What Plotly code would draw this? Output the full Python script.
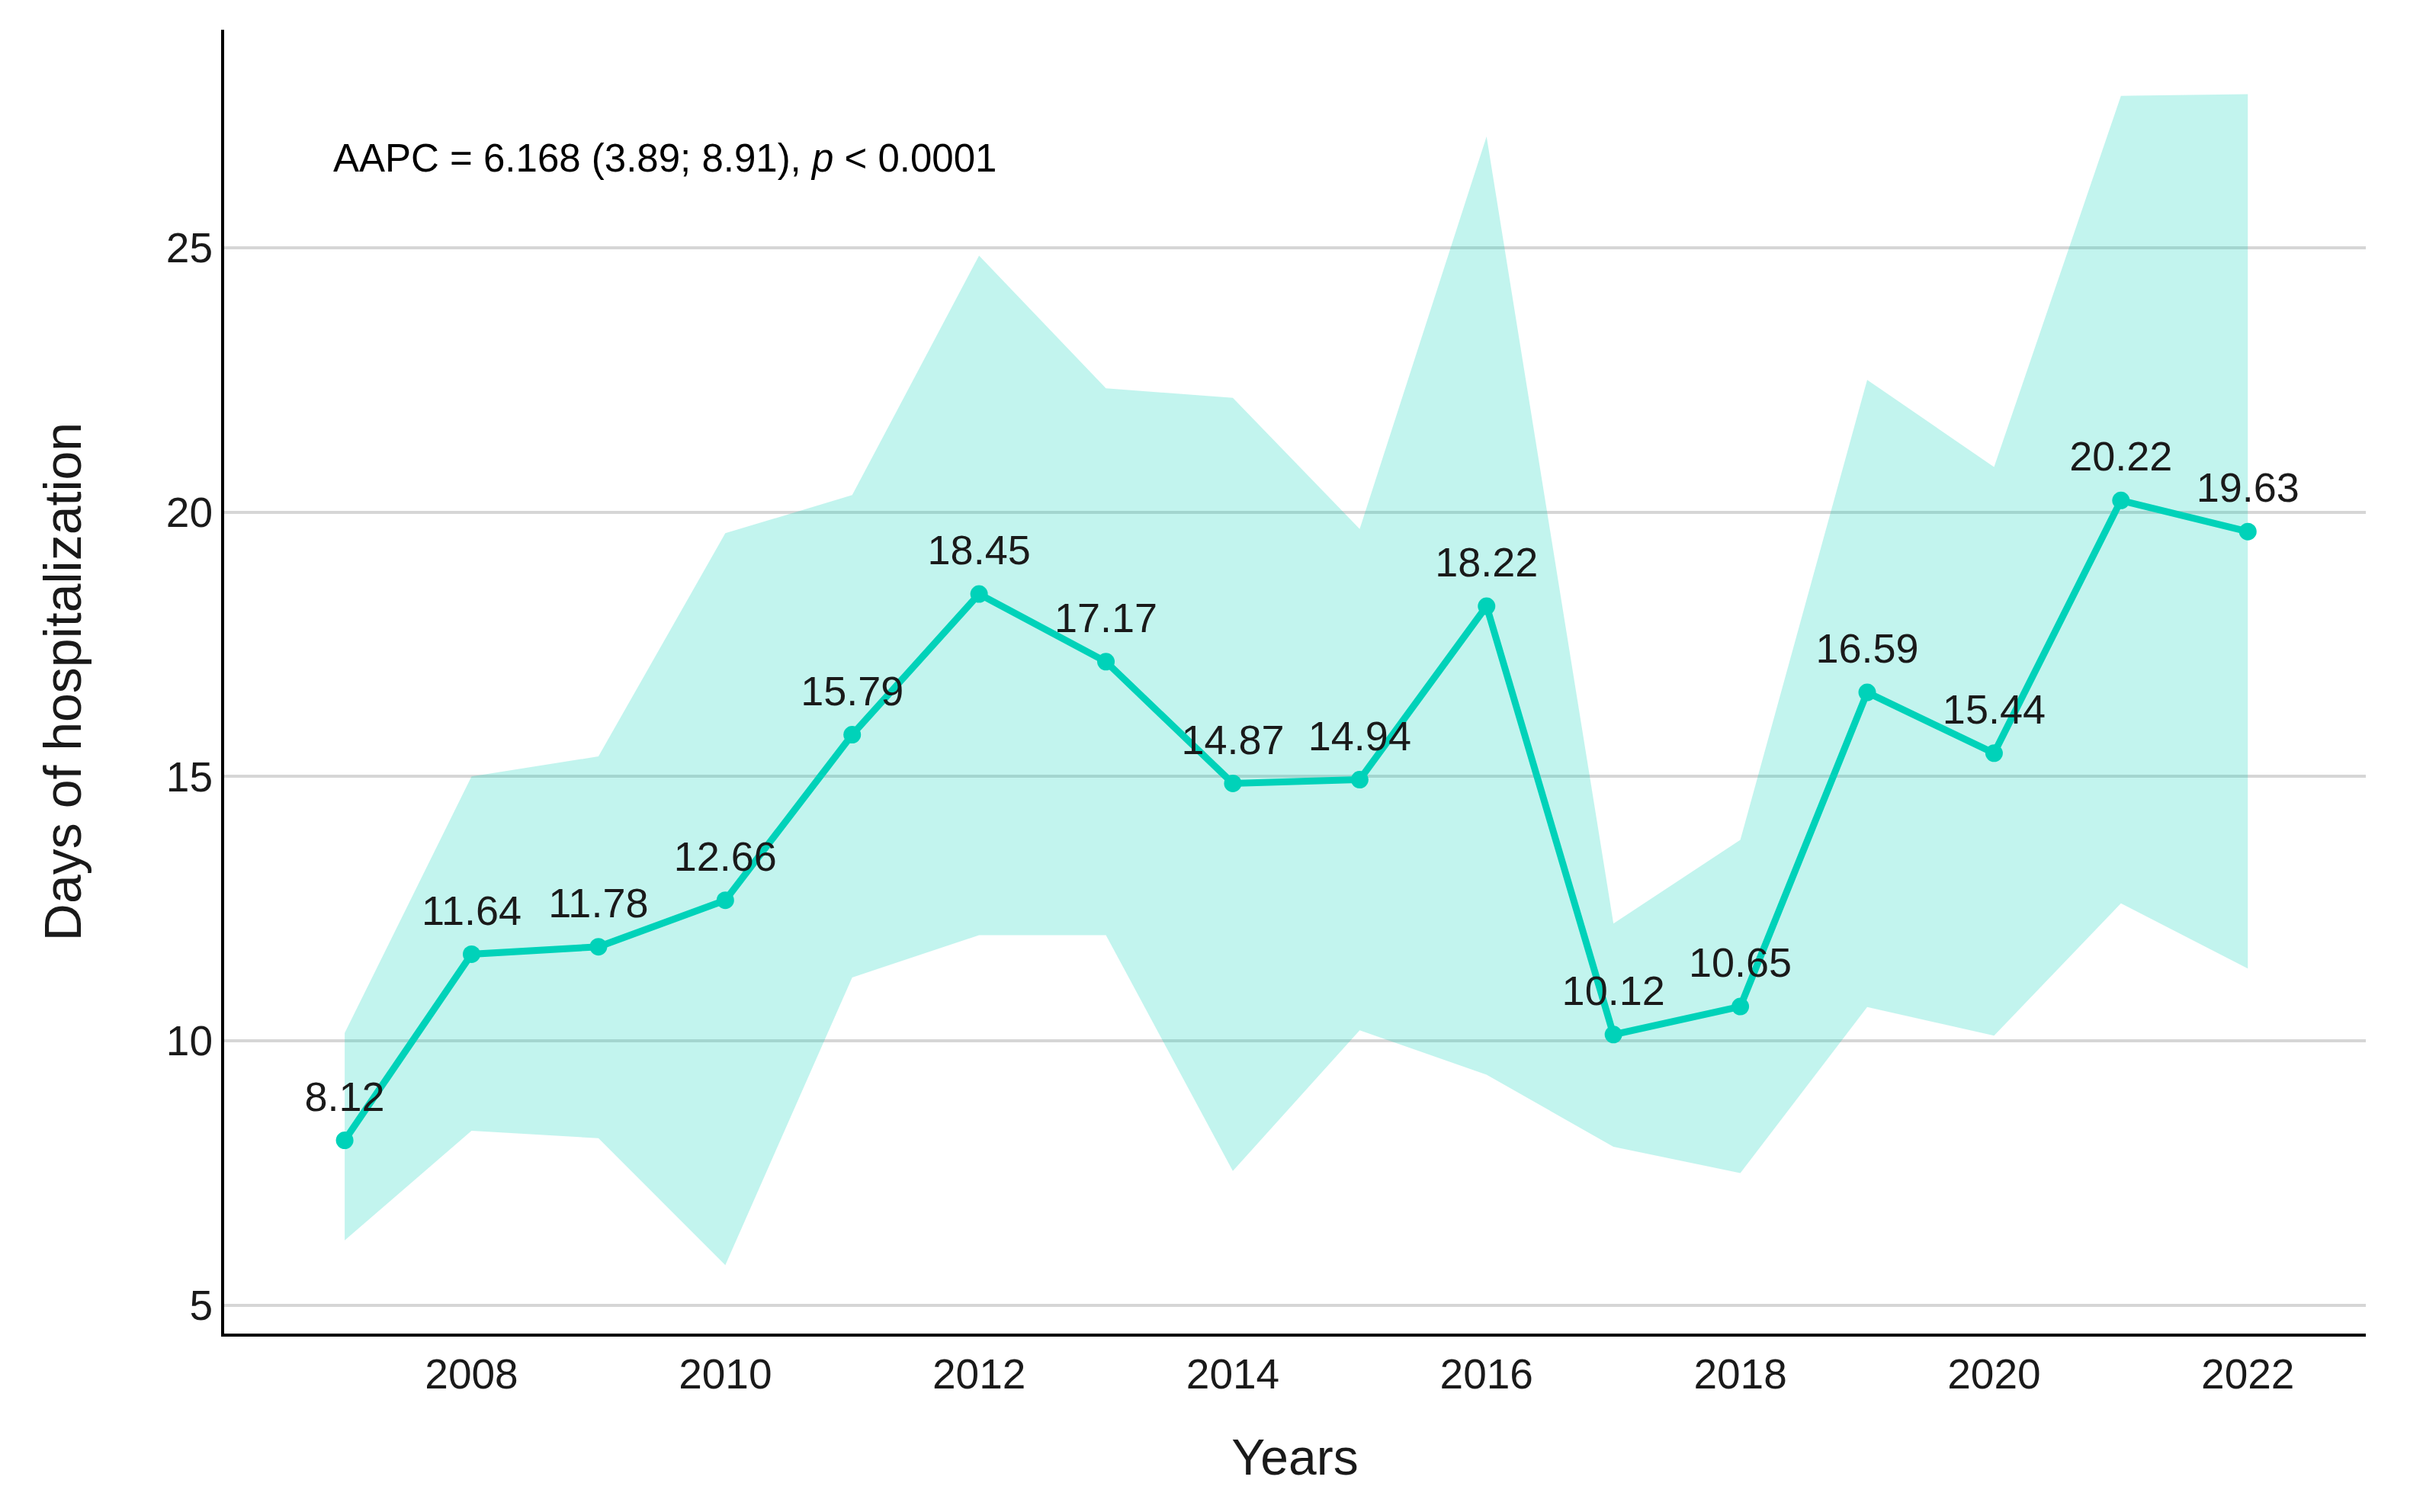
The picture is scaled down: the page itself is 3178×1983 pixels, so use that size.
import plotly.graph_objects as go

# data
years = list(range(2007, 2023))
days = [8.12, 11.64, 11.78, 12.66, 15.79, 18.45, 17.17, 14.87,
        14.94, 18.22, 10.12, 10.65, 16.59, 15.44, 20.22, 19.63]
upper = [10.15, 15.0, 15.38, 19.6, 20.32, 24.85, 22.34, 22.16,
         19.68, 27.1, 12.22, 13.8, 22.5, 20.85, 27.87, 27.9]
lower = [6.23, 8.3, 8.16, 5.76, 11.2, 12.0, 12.0, 7.54,
         10.2, 9.36, 8.0, 7.5, 10.64, 10.1, 12.6, 11.37]
labels = [f"{v:.2f}" for v in days]

font = "Arial, Liberation Sans, sans-serif"
teal = "#00D2B9"

fig = go.Figure()

# confidence band
fig.add_trace(go.Scatter(
    x=years, y=upper,
    mode='lines',
    line=dict(width=0),
    hoverinfo='skip',
    showlegend=False
))

fig.add_trace(go.Scatter(
    x=years, y=lower,
    mode='lines',
    line=dict(width=0),
    fill='tonexty',
    fillcolor='rgba(0,208,184,0.24)',
    hoverinfo='skip',
    showlegend=False
))

fig.add_trace(go.Scatter(
    x=years, y=days,
    mode='lines+markers',
    line=dict(color=teal, width=9),
    marker=dict(color=teal, size=23),
    showlegend=False
))

# value labels, a bigger invisible marker pushes them a bit higher
fig.add_trace(go.Scatter(
    x=years, y=days,
    mode='markers+text',
    marker=dict(size=39, opacity=0),
    text=labels,
    textposition='top center',
    textfont=dict(family=font, size=54, color='#1a1a1a'),
    hoverinfo='skip',
    showlegend=False
))

fig.add_annotation(
    x=2006.90, y=26.69, xref='x', yref='y',
    text="AAPC = 6.168 (3.89; 8.91), <i>p</i> < 0.0001",
    showarrow=False, xanchor='left', yanchor='middle',
    font=dict(family=font, size=51, color='#000000')
)

fig.update_xaxes(
    range=[2006.05, 2022.93],
    tickvals=list(range(2008, 2023, 2)),
    showgrid=False, zeroline=False,
    showline=True, linecolor='black', linewidth=4,
    ticks='outside', tickcolor='rgba(0,0,0,0)', ticklen=2,
    tickfont=dict(family=font, size=55, color='#1a1a1a'),
    title=dict(text='Years', font=dict(family=font, size=66, color='#1a1a1a'), standoff=57)
)
fig.update_yaxes(
    range=[4.466, 29.12],
    tickvals=[5, 10, 15, 20, 25],
    showgrid=True, gridcolor='#d6d6d6', gridwidth=4, zeroline=False,
    showline=True, linecolor='black', linewidth=4,
    ticks='', ticklen=0,
    tickfont=dict(family=font, size=55, color='#1a1a1a'),
    title=dict(text='Days of hospitalization', font=dict(family=font, size=68, color='#1a1a1a'), standoff=90)
)
# the page body adds an 8px margin, so the figure is a bit smaller than the window
fig.update_layout(
    width=3170, height=1975,
    margin=dict(l=286, r=75, t=31, b=234),
    plot_bgcolor='white', paper_bgcolor='white'
)

fig.write_html("out.html")
